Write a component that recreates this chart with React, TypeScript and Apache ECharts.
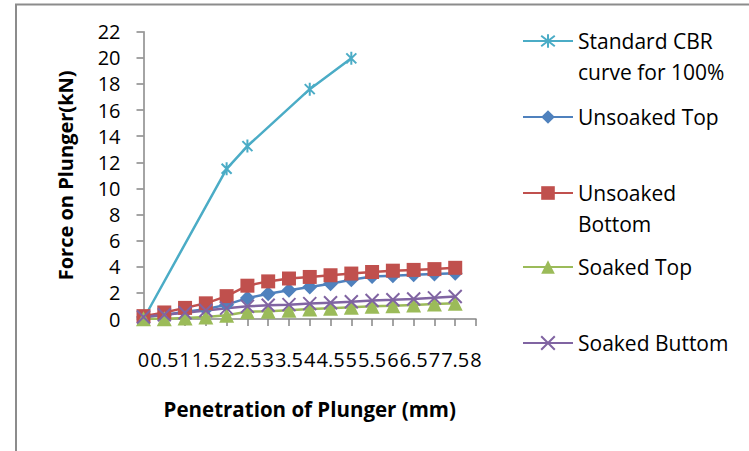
import React, { useEffect, useRef } from "react";
import * as echarts from "echarts";

// Penetration steps (mm)
const penetration = ["0", "0.5", "1", "1.5", "2", "2.5", "3", "3.5", "4", "4.5", "5", "5.5", "6", "6.5", "7", "7.5", "8"];

// Force on plunger (kN) for each test
const standardCBR = [0, null, null, null, 11.5, 13.24, null, null, 17.6, null, 19.96, null, null, null, null, null, null];
const unsoakedTop = [0.15, 0.3, 0.55, 0.75, 1.1, 1.6, 1.94, 2.2, 2.45, 2.7, 3.0, 3.25, 3.32, 3.38, 3.44, 3.5];
const unsoakedBottom = [0.22, 0.5, 0.85, 1.2, 1.75, 2.55, 2.88, 3.1, 3.22, 3.35, 3.48, 3.6, 3.7, 3.76, 3.82, 3.92];
const soakedTop = [0.02, 0.02, 0.08, 0.15, 0.28, 0.55, 0.6, 0.67, 0.76, 0.83, 0.9, 0.97, 1.02, 1.08, 1.15, 1.2];
const soakedButtom = [0.15, 0.33, 0.48, 0.65, 0.83, 0.97, 1.05, 1.1, 1.18, 1.25, 1.32, 1.42, 1.47, 1.53, 1.62, 1.72];

const seriesNames = [
  "Standard CBR curve for 100%",
  "Unsoaked Top",
  "Unsoaked Bottom",
  "Soaked Top",
  "Soaked Buttom",
];

const legendLabels: Record<string, string> = {
  "Standard CBR curve for 100%": " \nStandard CBR\ncurve for 100%",
  "Unsoaked Top": "Unsoaked Top",
  "Unsoaked Bottom": " \nUnsoaked\nBottom",
  "Soaked Top": "Soaked Top",
  "Soaked Buttom": "Soaked Buttom",
};

const FONT = "'Open Sans', 'Noto Sans', sans-serif";
const ASTERISK = "path://M0,0L10,10M10,0L0,10M5,-1.5L5,11.5";
const CROSS = "path://M0,0L10,10M10,0L0,10";

export default function App() {
  const ref = useRef<HTMLDivElement>(null);

  useEffect(() => {
    if (!ref.current) return;
    const chart = echarts.init(ref.current, null, { renderer: "svg" });

    const LH = 31;
    const legendRows = [
      { name: seriesNames[0], y: 41, lines: 3 },
      { name: seriesNames[1], y: 117, lines: 1 },
      { name: seriesNames[2], y: 193, lines: 3 },
      { name: seriesNames[3], y: 267, lines: 1 },
      { name: seriesNames[4], y: 343, lines: 1 },
    ];

    const legends = legendRows.map((r) => ({
      show: true,
      left: 522,
      top: r.y - (r.lines * LH) / 2,
      padding: 0,
      itemWidth: 50,
      itemHeight: 17,
      itemGap: 0,
      data: [r.name],
      formatter: (n: string) => legendLabels[n] ?? n,
      textStyle: { fontFamily: FONT, fontSize: 21, color: "#000", lineHeight: LH },
    }));

    const line = (
      name: string,
      data: (number | null)[],
      color: string,
      symbol: string,
      symbolSize: number,
      stroked: boolean
    ) => ({
      name,
      type: "line",
      data,
      connectNulls: true,
      symbol,
      symbolSize,
      symbolKeepAspect: true,
      showAllSymbol: true,
      lineStyle: { color, width: 2.5 },
      itemStyle: stroked
        ? { color, borderColor: color, borderWidth: 2 }
        : { color, borderWidth: 0 },
    });

    chart.setOption({
      animation: false,
      backgroundColor: "#fff",
      textStyle: { fontFamily: FONT },
      grid: { left: 143.5, top: 31.7, right: 273, bottom: 132 },
      legend: legends,
      graphic: [
        {
          type: "polyline",
          shape: { points: [[16, 451], [16, 4.5], [749, 4.5]] },
          style: { stroke: "#8c8c8c", lineWidth: 2, fill: null },
          silent: true,
        },
      ],
      xAxis: {
        type: "category",
        data: penetration,
        boundaryGap: false,
        name: "Penetration of Plunger (mm)",
        nameLocation: "middle",
        nameGap: 79,
        nameTextStyle: { fontFamily: FONT, fontSize: 20.5, fontWeight: "bold", color: "#000" },
        axisLine: { lineStyle: { color: "#868686", width: 1.5 } },
        axisTick: { show: true, length: 7, interval: 0, lineStyle: { color: "#868686", width: 1.5 } },
        axisLabel: { interval: 0, margin: 30, fontFamily: FONT, fontSize: 20, color: "#000" },
        splitLine: { show: false },
      },
      yAxis: {
        type: "value",
        min: 0,
        max: 22,
        interval: 2,
        name: "Force on Plunger(kN)",
        nameLocation: "middle",
        nameGap: 68,
        nameTextStyle: { fontFamily: FONT, fontSize: 20, fontWeight: "bold", color: "#000" },
        axisLine: { show: true, lineStyle: { color: "#868686", width: 1.5 } },
        axisTick: { show: true, length: 7, lineStyle: { color: "#868686", width: 1.5 } },
        axisLabel: { margin: 23, fontFamily: FONT, fontSize: 20, color: "#000" },
        splitLine: { show: false },
      },
      series: [
        line(seriesNames[0], standardCBR, "#4BACC6", ASTERISK, 13, true),
        line(seriesNames[1], unsoakedTop, "#4F81BD", "diamond", 15, false),
        line(seriesNames[2], unsoakedBottom, "#C0504D", "rect", 14, false),
        line(seriesNames[3], soakedTop, "#9BBB59", "triangle", 15, false),
        line(seriesNames[4], soakedButtom, "#8064A2", CROSS, 13, true),
      ],
    });

    return () => chart.dispose();
  }, []);

  return (
    <div
      ref={ref}
      style={{ position: "absolute", left: 0, top: 0, width: 749, height: 451 }}
    />
  );
}
